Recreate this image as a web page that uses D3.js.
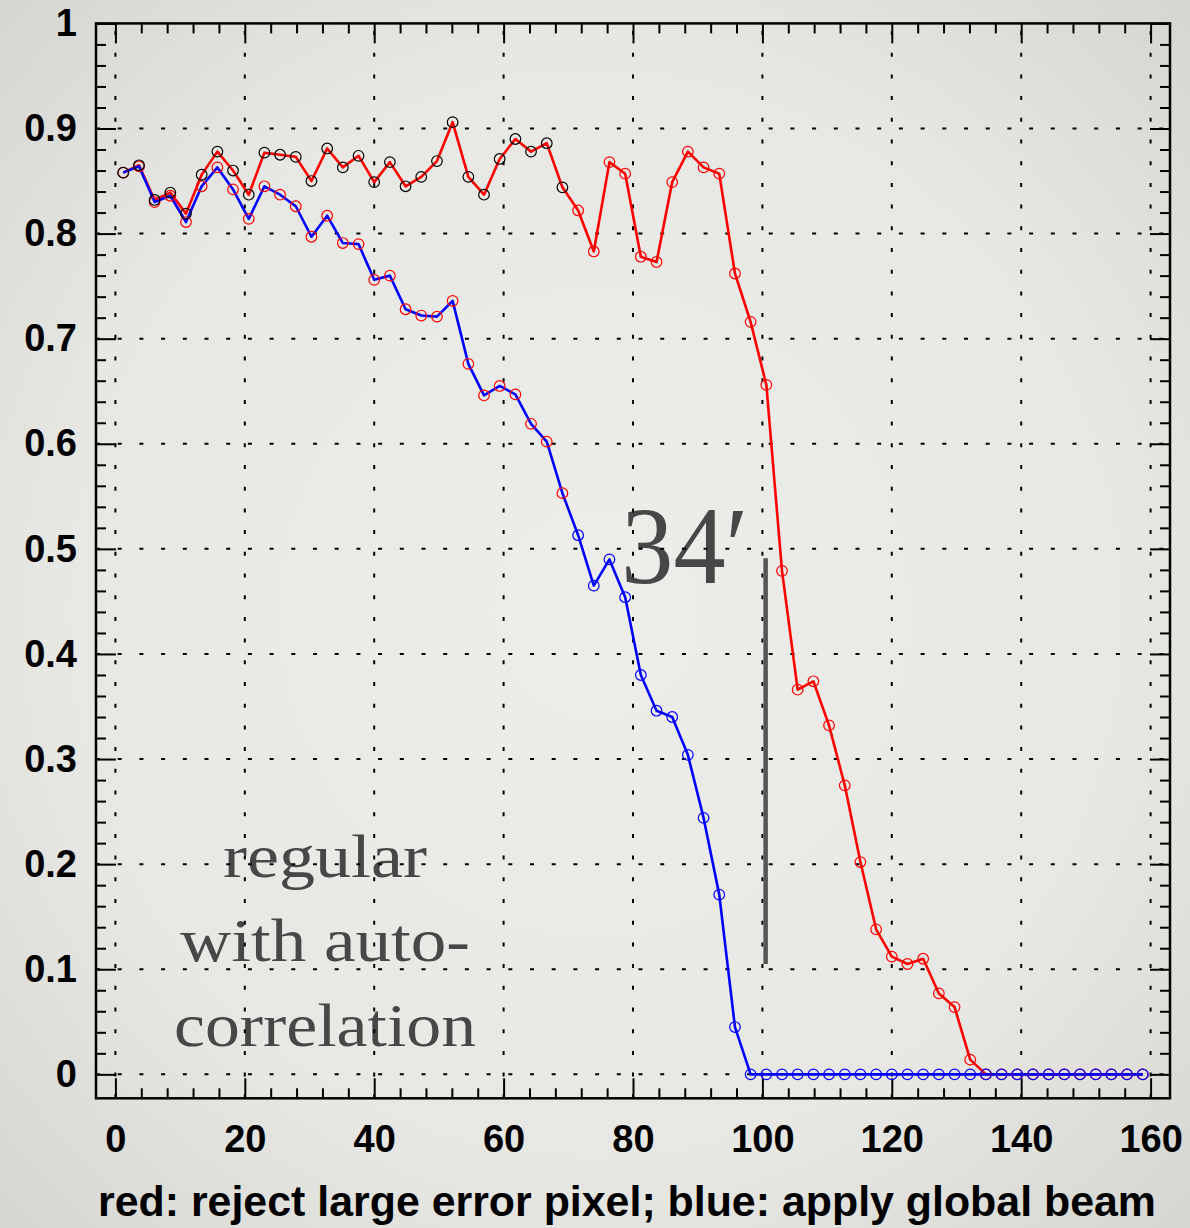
<!DOCTYPE html>
<html>
<head>
<meta charset="utf-8">
<script src="https://cdn.jsdelivr.net/npm/d3@7"></script>
<style>
  html, body { margin: 0; padding: 0; background: #e4e4e0; }
  svg { display: block; }
</style>
</head>
<body>
<svg id="chart" width="1190" height="1228"></svg>
<script>
// Sample positions (66 bins)
const xValues = [
  1.21, 3.64, 6.06, 8.48, 10.91, 13.33, 15.76, 18.18, 20.61, 23.03,
  25.45, 27.88, 30.30, 32.73, 35.15, 37.58, 40.00, 42.42, 44.85, 47.27,
  49.70, 52.12, 54.55, 56.97, 59.39, 61.82, 64.24, 66.67, 69.09, 71.52,
  73.94, 76.36, 78.79, 81.21, 83.64, 86.06, 88.48, 90.91, 93.33, 95.76,
  98.18, 100.61, 103.03, 105.45, 107.88, 110.30, 112.73, 115.15, 117.58, 120.00,
  122.42, 124.85, 127.27, 129.70, 132.12, 134.55, 136.97, 139.39, 141.82, 144.24,
  146.67, 149.09, 151.52, 153.94, 156.36, 158.79
];

// red: reject large error pixel
const redValues = [
  0.858, 0.865, 0.832, 0.839, 0.819, 0.856, 0.878, 0.860, 0.837, 0.877,
  0.875, 0.873, 0.850, 0.881, 0.863, 0.874, 0.849, 0.868, 0.845, 0.854,
  0.869, 0.906, 0.854, 0.837, 0.871, 0.890, 0.878, 0.886, 0.844, 0.822,
  0.783, 0.868, 0.857, 0.778, 0.773, 0.849, 0.878, 0.863, 0.857, 0.762,
  0.716, 0.656, 0.479, 0.366, 0.374, 0.332, 0.275, 0.202, 0.138, 0.112,
  0.105, 0.110, 0.077, 0.064, 0.014, 0.000, 0.000, 0.000, 0.000, 0.000,
  0.000, 0.000, 0.000, 0.000, 0.000, 0.000
];

// blue: apply global beam
const blueValues = [
  0.858, 0.864, 0.830, 0.836, 0.811, 0.845, 0.863, 0.842, 0.814, 0.845,
  0.837, 0.826, 0.797, 0.817, 0.791, 0.790, 0.756, 0.760, 0.728, 0.722,
  0.721, 0.736, 0.676, 0.646, 0.655, 0.647, 0.619, 0.602, 0.553, 0.513,
  0.465, 0.490, 0.454, 0.380, 0.346, 0.340, 0.304, 0.244, 0.171, 0.045,
  0.000, 0.000, 0.000, 0.000, 0.000, 0.000, 0.000, 0.000, 0.000, 0.000,
  0.000, 0.000, 0.000, 0.000, 0.000, 0.000, 0.000, 0.000, 0.000, 0.000,
  0.000, 0.000, 0.000, 0.000, 0.000, 0.000
];

const xTicks = [0, 20, 40, 60, 80, 100, 120, 140, 160];
const yTicks = [0, 0.1, 0.2, 0.3, 0.4, 0.5, 0.6, 0.7, 0.8, 0.9, 1];
const yTickLabels = ["0", "0.1", "0.2", "0.3", "0.4", "0.5", "0.6", "0.7", "0.8", "0.9", "1"];
const xTitle = "red: reject large error pixel; blue: apply global beam";
const cutLabel = "34\u2032";
const noteLines = ["regular", "with auto-", "correlation"];

// index where the marker palette steps along (black→red, red→blue)
const markerStep = 29;

const svg = d3.select("#chart");
const W = 1190, H = 1228;

// paper-like backdrop
const defs = svg.append("defs");
const grad = defs.append("radialGradient").attr("id", "paper")
  .attr("cx", "50%").attr("cy", "50%").attr("r", "75%");
grad.append("stop").attr("offset", "0%").attr("stop-color", "#ededea");
grad.append("stop").attr("offset", "60%").attr("stop-color", "#e7e7e3");
grad.append("stop").attr("offset", "100%").attr("stop-color", "#d2d2ce");
svg.append("rect").attr("width", W).attr("height", H).attr("fill", "url(#paper)");

const x = d3.scaleLinear().domain([-3, 163]).range([96, 1170]);
const y = d3.scaleLinear().domain([-0.0228, 1]).range([1098.3, 23.4]);
const [x0, x1] = x.range();
const [y0, y1] = y.range();

// annotations sit underneath the grid
const noteG = svg.append("g")
  .attr("font-family", "'Liberation Serif', 'DejaVu Serif', serif")
  .attr("fill", "#474747");
const noteWidths = [204, 290, 302];
const noteBase = [0.1878, 0.1074, 0.0268];
noteLines.forEach((t, i) => {
  noteG.append("text")
    .attr("x", x(32.4)).attr("y", y(noteBase[i]))
    .attr("text-anchor", "middle")
    .attr("font-size", 62)
    .attr("textLength", noteWidths[i])
    .attr("lengthAdjust", "spacingAndGlyphs")
    .text(t);
});
noteG.append("text")
  .attr("x", x(78.2)).attr("y", y(0.4672))
  .attr("font-size", 110)
  .attr("textLength", 127)
  .attr("lengthAdjust", "spacingAndGlyphs")
  .text(cutLabel);

// dotted grid
const grid = svg.append("g").attr("stroke", "#000").attr("stroke-width", 2)
  .attr("stroke-dasharray", "4 17.7");
grid.selectAll("line.v").data(xTicks).join("line").attr("class", "v")
  .attr("x1", d => x(d)).attr("x2", d => x(d))
  .attr("y1", y0).attr("y2", y1);
grid.selectAll("line.h").data(yTicks.filter(d => d < 1)).join("line").attr("class", "h")
  .attr("y1", d => y(d)).attr("y2", d => y(d))
  .attr("x1", x0).attr("x2", x1);

// frame ticks (pointing inward), major and minor, on all four sides
const minorX = d3.range(0, 161, 4).filter(d => d % 20 !== 0);
const minorY = d3.range(0, 1.0001, 0.02).filter(d => Math.abs(d * 10 - Math.round(d * 10)) > 1e-6);
function tickAxis(gen, tr, vals, size) {
  const g = svg.append("g").attr("transform", tr)
    .call(gen.tickValues(vals).tickSize(-size).tickFormat(""));
  g.select(".domain").remove();
  g.selectAll(".tick line").attr("stroke", "#000").attr("stroke-width", 2);
  return g;
}
tickAxis(d3.axisBottom(x), `translate(0,${y0})`, xTicks, 20);
tickAxis(d3.axisBottom(x), `translate(0,${y0})`, minorX, 10);
tickAxis(d3.axisTop(x), `translate(0,${y1})`, xTicks, 20);
tickAxis(d3.axisTop(x), `translate(0,${y1})`, minorX, 10);
tickAxis(d3.axisLeft(y), `translate(${x0},0)`, yTicks, 20);
tickAxis(d3.axisLeft(y), `translate(${x0},0)`, minorY, 10);
tickAxis(d3.axisRight(y), `translate(${x1},0)`, yTicks, 20);
tickAxis(d3.axisRight(y), `translate(${x1},0)`, minorY, 10);

// tick labels
const xLab = svg.append("g").attr("transform", `translate(0,${y0})`)
  .call(d3.axisBottom(x).tickValues(xTicks).tickSize(0).tickPadding(27).tickFormat(d3.format("d")));
xLab.select(".domain").remove();
xLab.selectAll("text").attr("font-family", "'Liberation Sans', Arial, sans-serif")
  .attr("font-weight", "bold").attr("font-size", 38).attr("fill", "#000");

const yLab = svg.append("g").attr("transform", `translate(${x0},0)`)
  .call(d3.axisLeft(y).tickValues(yTicks).tickSize(0).tickPadding(19)
    .tickFormat((d, i) => yTickLabels[i]));
yLab.select(".domain").remove();
yLab.selectAll("text").attr("font-family", "'Liberation Sans', Arial, sans-serif")
  .attr("font-weight", "bold").attr("font-size", 38).attr("fill", "#000");

// axis title
svg.append("text")
  .attr("x", 627).attr("y", 1216)
  .attr("text-anchor", "middle")
  .attr("font-family", "'Liberation Sans', Arial, sans-serif")
  .attr("font-weight", "bold").attr("font-size", 42).attr("fill", "#000")
  .attr("textLength", 1058)
  .attr("lengthAdjust", "spacingAndGlyphs")
  .text(xTitle);

// frame
svg.append("rect").attr("x", x0).attr("y", y1)
  .attr("width", x1 - x0).attr("height", y0 - y1)
  .attr("fill", "none").attr("stroke", "#000").attr("stroke-width", 2.5);

// vertical marker line at the 34' cut
svg.append("line")
  .attr("x1", x(100.5)).attr("x2", x(100.5))
  .attr("y1", y(0.491)).attr("y2", y(0.105))
  .attr("stroke", "#555").attr("stroke-width", 4.5);

// series lines
const redPts = xValues.map((v, i) => [v, redValues[i]]);
const bluePts = xValues.map((v, i) => [v, blueValues[i]]);
const line = d3.line().x(d => x(d[0])).y(d => y(d[1]));
svg.append("path").datum(redPts).attr("d", line)
  .attr("fill", "none").attr("stroke", "#ff0000").attr("stroke-width", 2.6)
  .attr("stroke-linejoin", "round");
svg.append("path").datum(bluePts).attr("d", line)
  .attr("fill", "none").attr("stroke", "#0000ff").attr("stroke-width", 2.6)
  .attr("stroke-linejoin", "round");

// open-circle markers
const markers = [];
redPts.forEach((p, i) => markers.push({ p, c: i < markerStep ? "#000" : "#ff0000", o: i < markerStep ? 2 : 1 }));
bluePts.forEach((p, i) => markers.push({ p, c: i < markerStep ? "#ff0000" : "#0000ff", o: 1 }));
markers.sort((a, b) => a.o - b.o);
svg.append("g").selectAll("circle").data(markers).join("circle")
  .attr("cx", d => x(d.p[0])).attr("cy", d => y(d.p[1]))
  .attr("r", 5.3).attr("fill", "none")
  .attr("stroke", d => d.c).attr("stroke-width", 1.2);
</script>
</body>
</html>
